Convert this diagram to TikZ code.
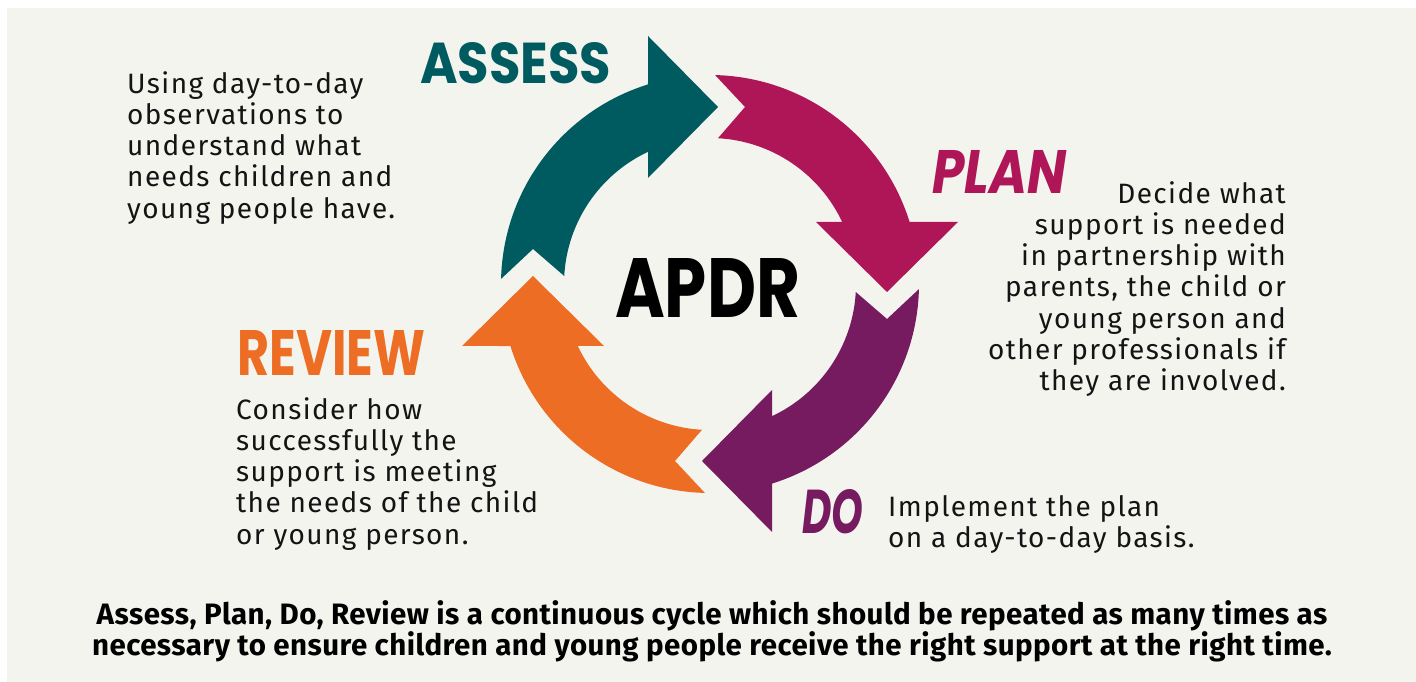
\documentclass[tikz,border=0pt]{standalone}
\usepackage{fontspec}
\usepackage{graphicx}
\setmainfont{Fira Sans}
\newfontfamily\bodyfont{Fira Sans}[LetterSpace=5]
\newfontfamily\summfont{Fira Sans}[LetterSpace=1.5]
\newfontfamily\dispfont{Poppins}
\definecolor{bgc}{HTML}{F4F4EF}
\definecolor{assessc}{HTML}{005B61}
\definecolor{planc}{HTML}{AE1657}
\definecolor{doc}{HTML}{761B5F}
\definecolor{reviewc}{HTML}{EC6D23}
\definecolor{txtc}{HTML}{141414}
\tikzset{
  body/.style={inner sep=0pt, text=txtc, font=\bodyfont\fontsize{28pt}{31.3pt}\selectfont},
  title/.style={inner sep=0pt, anchor=north west, font=\dispfont\bfseries},
  bigarrow/.pic={
    \fill (178.6:209) arc[start angle=178.6, end angle=107.26, radius=209]
      -- (-62,248) -- (8,177) -- (-62,106) -- (115.13:146)
      arc[start angle=115.13, end angle=176.86, radius=146]
      -- (-177,35) -- cycle;
  }
}
\begin{document}
\begin{tikzpicture}[x=1pt,y=1pt]
\useasboundingbox (0,0) rectangle (1416,682);
\fill[white] (0,0) rectangle (1416,682);
\fill[bgc] (7,0) rectangle (1416,674);
\coordinate (C) at (710,398);
% arrows
\pic[fill=assessc] at (C) {bigarrow};
\pic[fill=planc, rotate=-90] at (C) {bigarrow};
\pic[fill=doc, rotate=-180] at (C) {bigarrow};
\pic[fill=reviewc, rotate=90] at (C) {bigarrow};
% titles
\node[title, text=assessc] (tassess) at (420,640) {\resizebox{191pt}{41pt}{ASSESS}};
\node[title, text=planc] (tplan) at (932,532) {\resizebox{134pt}{43pt}{\itshape PLAN}};
\node[title, text=reviewc] (treview) at (237,352) {\resizebox{188pt}{45pt}{REVIEW}};
\node[title, text=doc] (tdo) at (802,193) {\resizebox{61pt}{44pt}{\itshape DO}};
\node[title, text=black] (tapdr) at (615,424) {\resizebox{185pt}{59pt}{APDR}};
% descriptions
\node[body, anchor=north west, align=left] (dassess) at (127,611)
  {Using day-to-day\\observations to\\understand what\\needs children and\\young people have.};
\node[body, anchor=north east, align=right] (dplan) at (1286,501)
  {Decide what\\support is needed\\in partnership with\\parents, the child or\\young person and\\other professionals if\\they are involved.};
\node[body, anchor=north west, align=left] (dreview) at (236,285)
  {Consider how\\successfully the\\support is meeting\\the needs of the child\\or young person.};
\node[body, anchor=north west, align=left] (ddo) at (888,187)
  {Implement the plan\\on a day-to-day basis.};
% bottom
\node[inner sep=0pt, anchor=north, align=center, text=black,
  font=\summfont\bfseries\fontsize{29.5pt}{31pt}\selectfont] (summary) at (712,82)
  {Assess, Plan, Do, Review is a continuous cycle which should be repeated as many times as\\necessary to ensure children and young people receive the right support at the right time.};
\end{tikzpicture}
\end{document}
